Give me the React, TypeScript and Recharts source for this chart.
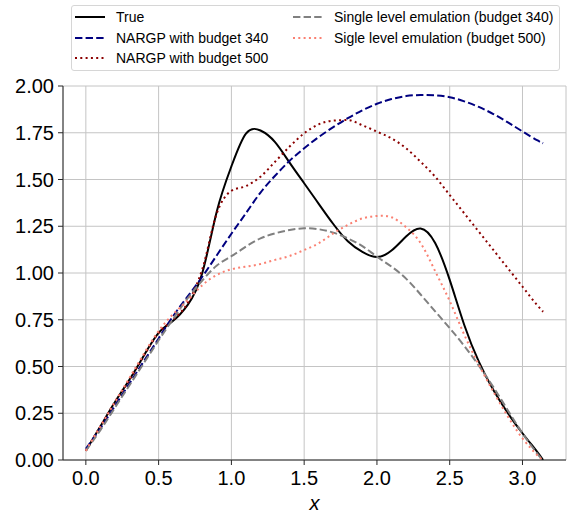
import { LineChart, Line, XAxis, YAxis, CartesianGrid, Label } from 'recharts';

// x positions shared by every curve (0 .. pi)
const xs = [0, 0.1, 0.2, 0.3, 0.4, 0.5, 0.6, 0.7, 0.8, 0.9, 1.0, 1.1, 1.2, 1.3, 1.4, 1.5, 1.6,
  1.7, 1.8, 1.9, 2.0, 2.1, 2.2, 2.3, 2.4, 2.5, 2.6, 2.7, 2.8, 2.9, 3.0, 3.1, 3.1416];

const trueF = [0.05, 0.18, 0.31, 0.43, 0.56, 0.68, 0.745, 0.83, 1.0, 1.33, 1.57, 1.745, 1.762, 1.7,
  1.59, 1.48, 1.37, 1.262, 1.17, 1.113, 1.085, 1.12, 1.195, 1.238, 1.16, 0.963, 0.722, 0.526,
  0.374, 0.25, 0.143, 0.045, 0.0];

const nargp340 = [0.06, 0.17, 0.29, 0.41, 0.53, 0.65, 0.77, 0.875, 0.98, 1.095, 1.21, 1.32, 1.43,
  1.52, 1.6, 1.667, 1.727, 1.78, 1.828, 1.87, 1.905, 1.93, 1.946, 1.952, 1.95, 1.94, 1.918, 1.888,
  1.85, 1.805, 1.757, 1.71, 1.694];

const nargp500 = [0.05, 0.18, 0.31, 0.43, 0.56, 0.68, 0.75, 0.84, 1.02, 1.32, 1.44, 1.465, 1.515,
  1.595, 1.676, 1.747, 1.795, 1.815, 1.818, 1.79, 1.756, 1.72, 1.667, 1.595, 1.515, 1.417, 1.319,
  1.221, 1.123, 1.025, 0.927, 0.829, 0.793];

const single340 = [0.05, 0.16, 0.28, 0.4, 0.52, 0.64, 0.755, 0.865, 0.96, 1.04, 1.09, 1.141, 1.185,
  1.212, 1.23, 1.239, 1.234, 1.216, 1.185, 1.144, 1.087, 1.034, 0.97, 0.885, 0.795, 0.705, 0.61,
  0.505, 0.39, 0.265, 0.143, 0.036, 0.0];

const single500 = [0.05, 0.18, 0.31, 0.44, 0.57, 0.69, 0.78, 0.855, 0.935, 0.99, 1.02, 1.034, 1.048,
  1.07, 1.091, 1.123, 1.159, 1.212, 1.257, 1.292, 1.305, 1.298, 1.245, 1.16, 1.01, 0.85, 0.67, 0.51,
  0.365, 0.232, 0.116, 0.027, 0.0];

const xTicks = [0, 0.5, 1.0, 1.5, 2.0, 2.5, 3.0];
const yTicks = [0, 0.25, 0.5, 0.75, 1.0, 1.25, 1.5, 1.75, 2.0];
const xDomain = [-0.157, 3.299];

const data = xs.map((x, i) => ({
  x,
  trueF: trueF[i],
  nargp340: nargp340[i],
  nargp500: nargp500[i],
  single340: single340[i],
  single500: single500[i],
}));

const FONT = '"Liberation Sans", Arial, sans-serif';
const AXIS = '#262626';

const legendItems = [
  { label: 'True', color: '#000000', dash: undefined as string | undefined, col: 0, row: 0 },
  { label: 'NARGP with budget 340', color: '#000080', dash: '7.4 3.2', col: 0, row: 1 },
  { label: 'NARGP with budget 500', color: '#8b0000', dash: '2 3.3', col: 0, row: 2 },
  { label: 'Single level emulation (budget 340)', color: '#808080', dash: '7.4 3.2', col: 1, row: 0 },
  { label: 'Sigle level emulation (budget 500)', color: '#fa8072', dash: '2 3.3', col: 1, row: 1 },
];

function ChartLegend() {
  return (
    <div
      style={{
        position: 'absolute', left: 71, top: 5, width: 487, height: 64,
        border: '1px solid #d6d6d6', borderRadius: 3, background: 'rgba(255,255,255,0.8)',
        fontFamily: FONT, fontSize: 14, color: '#000',
      }}
    >
      {legendItems.map((it) => (
        <div
          key={it.label}
          style={{
            position: 'absolute', left: it.col ? 221 : 3, top: 1 + it.row * 20.5, height: 20,
            display: 'flex', alignItems: 'center', whiteSpace: 'nowrap',
          }}
        >
          <svg width={30} height={10} style={{ marginRight: 11 }}>
            <line x1={0} y1={5} x2={30} y2={5} stroke={it.color} strokeWidth={2} strokeDasharray={it.dash} />
          </svg>
          <span>{it.label}</span>
        </div>
      ))}
    </div>
  );
}

export default function App() {
  const tickStyle = { fontSize: 20, fill: '#000', fontFamily: FONT };
  return (
    <div style={{ position: 'absolute', left: 0, top: 0, width: 569, height: 514, background: '#fff' }}>
      <LineChart width={569} height={514} data={data} margin={{ top: 86, right: 3, left: 0, bottom: 0 }}>
        <CartesianGrid stroke="#c4c4c4" strokeWidth={1} />
        <XAxis
          dataKey="x" type="number" domain={xDomain} ticks={xTicks} allowDataOverflow
          tickFormatter={(v: number) => v.toFixed(1)} tick={tickStyle} height={54}
          tickSize={5} tickMargin={6} stroke={AXIS}
        >
          <Label value="x" position="insideBottom" offset={4}
            style={{ fontSize: 20, fontStyle: 'italic', fill: '#000', fontFamily: FONT }} />
        </XAxis>
        <XAxis xAxisId="top" orientation="top" type="number" domain={xDomain} allowDataOverflow
          tick={false} tickLine={false} height={0} stroke={AXIS} />
        <YAxis
          type="number" domain={[0, 2]} ticks={yTicks} allowDataOverflow
          tickFormatter={(v: number) => v.toFixed(2)} tick={tickStyle} width={63}
          tickSize={5} tickMargin={4} stroke={AXIS}
        />
        <YAxis yAxisId="right" orientation="right" type="number" domain={[0, 2]} allowDataOverflow
          tick={false} tickLine={false} width={0} stroke={AXIS} />
        <Line dataKey="trueF" type="natural" stroke="#000000" strokeWidth={2} dot={false} isAnimationActive={false} />
        <Line dataKey="nargp340" type="natural" stroke="#000080" strokeWidth={2} strokeDasharray="7.4 3.2" dot={false} isAnimationActive={false} />
        <Line dataKey="nargp500" type="monotone" stroke="#8b0000" strokeWidth={2} strokeDasharray="2 3.3" dot={false} isAnimationActive={false} />
        <Line dataKey="single340" type="natural" stroke="#808080" strokeWidth={2} strokeDasharray="7.4 3.2" dot={false} isAnimationActive={false} />
        <Line dataKey="single500" type="natural" stroke="#fa8072" strokeWidth={2} strokeDasharray="2 3.3" dot={false} isAnimationActive={false} />
      </LineChart>
      <ChartLegend />
    </div>
  );
}
